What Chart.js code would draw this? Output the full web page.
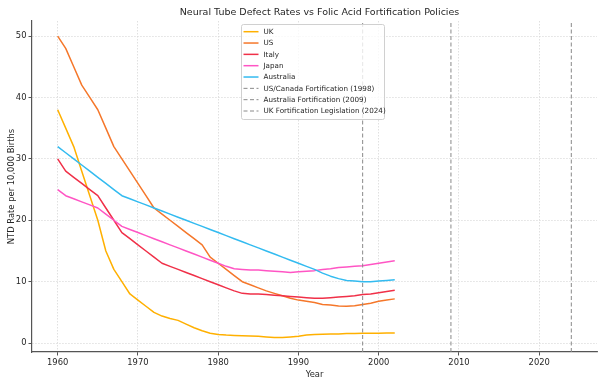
<!DOCTYPE html>
<html><head><meta charset="utf-8">
<script src="https://cdn.jsdelivr.net/npm/chart.js@4"></script>
<style>html,body{margin:0;padding:0;background:#fff}#wrap{width:602px;height:384px}</style>
</head><body><div id="wrap"><canvas id="c" width="602" height="384"></canvas></div>
<script>
const years = [1960,1961,1962,1963,1964,1965,1966,1967,1968,1969,1970,1971,1972,1973,1974,1975,1976,1977,1978,1979,1980,1981,1982,1983,1984,1985,1986,1987,1988,1989,1990,1991,1992,1993,1994,1995,1996,1997,1998,1999,2000,2001,2002];
const ukRates = [38,35,32,28,24,20,15,12,10,8,7,6,5,4.4,4,3.7,3.1,2.5,2.0,1.6,1.4,1.3,1.25,1.2,1.15,1.1,1.0,0.9,0.9,1.0,1.1,1.3,1.4,1.45,1.5,1.5,1.55,1.55,1.6,1.6,1.6,1.65,1.65];
const usRates = [50,48,45,42,40,38,35,32,30,28,26,24,22,21,20,19,18,17,16,14,13,12,11,10,9.5,9,8.5,8.1,7.7,7.3,7.0,6.8,6.6,6.3,6.2,6.05,6.0,6.1,6.3,6.5,6.8,7.0,7.2];
const italyRates = [30,28,27,26,25,24,22,20,18,17,16,15,14,13,12.5,12,11.5,11,10.5,10,9.5,9,8.5,8.1,8.0,8.0,7.9,7.8,7.7,7.6,7.5,7.4,7.3,7.3,7.4,7.5,7.6,7.7,7.9,8.0,8.2,8.4,8.6];
const japanRates = [25,24,23.5,23,22.5,22,21,20,19,18.5,18,17.5,17,16.5,16,15.5,15,14.5,14,13.5,13,12.5,12.1,12.0,11.9,11.9,11.8,11.7,11.6,11.5,11.6,11.7,11.8,12.0,12.1,12.3,12.4,12.5,12.6,12.8,13.0,13.2,13.4];
const australiaRates = [32,31,30,29,28,27,26,25,24,23.5,23,22.5,22,21.5,21,20.5,20,19.5,19,18.5,18,17.5,17,16.5,16,15.5,15,14.5,14,13.5,13,12.5,12.0,11.4,10.9,10.5,10.2,10.1,10.0,10.0,10.1,10.2,10.3];
const seriesNames = ['UK','US','Italy','Japan','Australia'];
const seriesColors = ['#FFB000','#F5772A','#F03048','#FF55C4','#33BBF0'];
const policyYears = [1998, 2009, 2024];
const policyLabels = ['US/Canada Fortification (1998)','Australia Fortification (2009)','UK Fortification Legislation (2024)'];
const xTicks = [1960,1970,1980,1990,2000,2010,2020];
const yTicks = [0,10,20,30,40,50];
const X_MIN = 1956.8, X_MAX = 2027.2, Y_MIN = -1.45, Y_MAX = 52.45;
const FONT = '"DejaVu Sans", sans-serif';
const TEXT = '#262626';
const TITLE = 'Neural Tube Defect Rates vs Folic Acid Fortification Policies';

const seriesValues = [ukRates, usRates, italyRates, japanRates, australiaRates];
const datasets = [];
seriesNames.forEach((name, i) => {
  datasets.push({
    label: name,
    data: years.map((yr, k) => ({x: yr, y: seriesValues[i][k]})),
    borderColor: seriesColors[i],
    backgroundColor: seriesColors[i],
    borderWidth: 1.5,
    pointRadius: 0,
    tension: 0,
    borderJoinStyle: 'round',
    fill: false,
    order: 10 - i
  });
});
policyYears.forEach((yr, i) => {
  datasets.push({
    label: policyLabels[i],
    data: [{x: yr, y: Y_MIN}, {x: yr, y: Y_MAX}],
    borderColor: '#8a8a8a',
    borderWidth: 1,
    borderDash: [4, 2.5],
    pointRadius: 0,
    fill: false,
    order: 0
  });
});

const overlay = {
  id: 'overlay',
  afterDraw(chart) {
    const ctx = chart.ctx, ca = chart.chartArea;
    ctx.save();
    ctx.fillStyle = TEXT;
    ctx.font = '9.5px ' + FONT;
    ctx.textAlign = 'center';
    ctx.textBaseline = 'middle';
    ctx.fillText(TITLE, (ca.left + ca.right) / 2 + 5, 13);
    const x0 = 241.5, y0 = 24.5, w = 143, h = 95, r = 2;
    ctx.beginPath();
    ctx.moveTo(x0 + r, y0);
    ctx.lineTo(x0 + w - r, y0); ctx.quadraticCurveTo(x0 + w, y0, x0 + w, y0 + r);
    ctx.lineTo(x0 + w, y0 + h - r); ctx.quadraticCurveTo(x0 + w, y0 + h, x0 + w - r, y0 + h);
    ctx.lineTo(x0 + r, y0 + h); ctx.quadraticCurveTo(x0, y0 + h, x0, y0 + h - r);
    ctx.lineTo(x0, y0 + r); ctx.quadraticCurveTo(x0, y0, x0 + r, y0);
    ctx.closePath();
    ctx.fillStyle = 'rgba(255,255,255,0.8)';
    ctx.fill();
    ctx.strokeStyle = '#d0d0d0';
    ctx.lineWidth = 1;
    ctx.stroke();
    ctx.font = '7.2px ' + FONT;
    ctx.textAlign = 'left';
    chart.data.datasets.forEach((ds, i) => {
      const cy = 31.7 + i * 11.33;
      ctx.beginPath();
      ctx.setLineDash(ds.borderDash || []);
      ctx.strokeStyle = ds.borderColor;
      ctx.lineWidth = ds.borderWidth;
      ctx.moveTo(243.5, cy); ctx.lineTo(258.5, cy);
      ctx.stroke();
      ctx.setLineDash([]);
      ctx.fillStyle = TEXT;
      ctx.fillText(ds.label, 263.5, cy + 0.5);
    });
    ctx.restore();
  }
};

const gridCommon = {color: '#d8d8d8', lineWidth: 0.8, tickLength: 3.5, tickColor: '#555', tickWidth: 1};
new Chart(document.getElementById('c'), {
  type: 'line',
  data: {datasets},
  plugins: [overlay],
  options: {
    responsive: false,
    animation: false,
    devicePixelRatio: 1,
    layout: {padding: {top: 21, right: 5, left: 0, bottom: 0}},
    plugins: {legend: {display: false}, title: {display: false}, tooltip: {enabled: false}},
    scales: {
      x: {
        type: 'linear', min: X_MIN, max: X_MAX,
        afterBuildTicks: s => { s.ticks = xTicks.map(v => ({value: v})); },
        afterFit: s => { s.height = 32; },
        ticks: {font: {family: FONT, size: 8.4}, color: TEXT, padding: 2, maxRotation: 0, autoSkip: false, callback: v => String(v)},
        grid: gridCommon,
        border: {display: true, color: '#555', width: 1.2, dash: [1.5, 1.5]},
        title: {display: true, text: 'Year', font: {family: FONT, size: 8.4}, color: TEXT, padding: {top: 0, bottom: 4}}
      },
      y: {
        type: 'linear', min: Y_MIN, max: Y_MAX,
        afterBuildTicks: s => { s.ticks = yTicks.map(v => ({value: v})); },
        afterFit: s => { s.width = 32; },
        ticks: {font: {family: FONT, size: 8.4}, color: TEXT, padding: 2, callback: v => String(v)},
        grid: gridCommon,
        border: {display: true, color: '#555', width: 1.2, dash: [1.5, 1.5]},
        title: {display: true, text: 'NTD Rate per 10,000 Births', font: {family: FONT, size: 8.4}, color: TEXT, padding: {top: 7, bottom: 0}}
      }
    }
  }
});
</script>
</body></html>
